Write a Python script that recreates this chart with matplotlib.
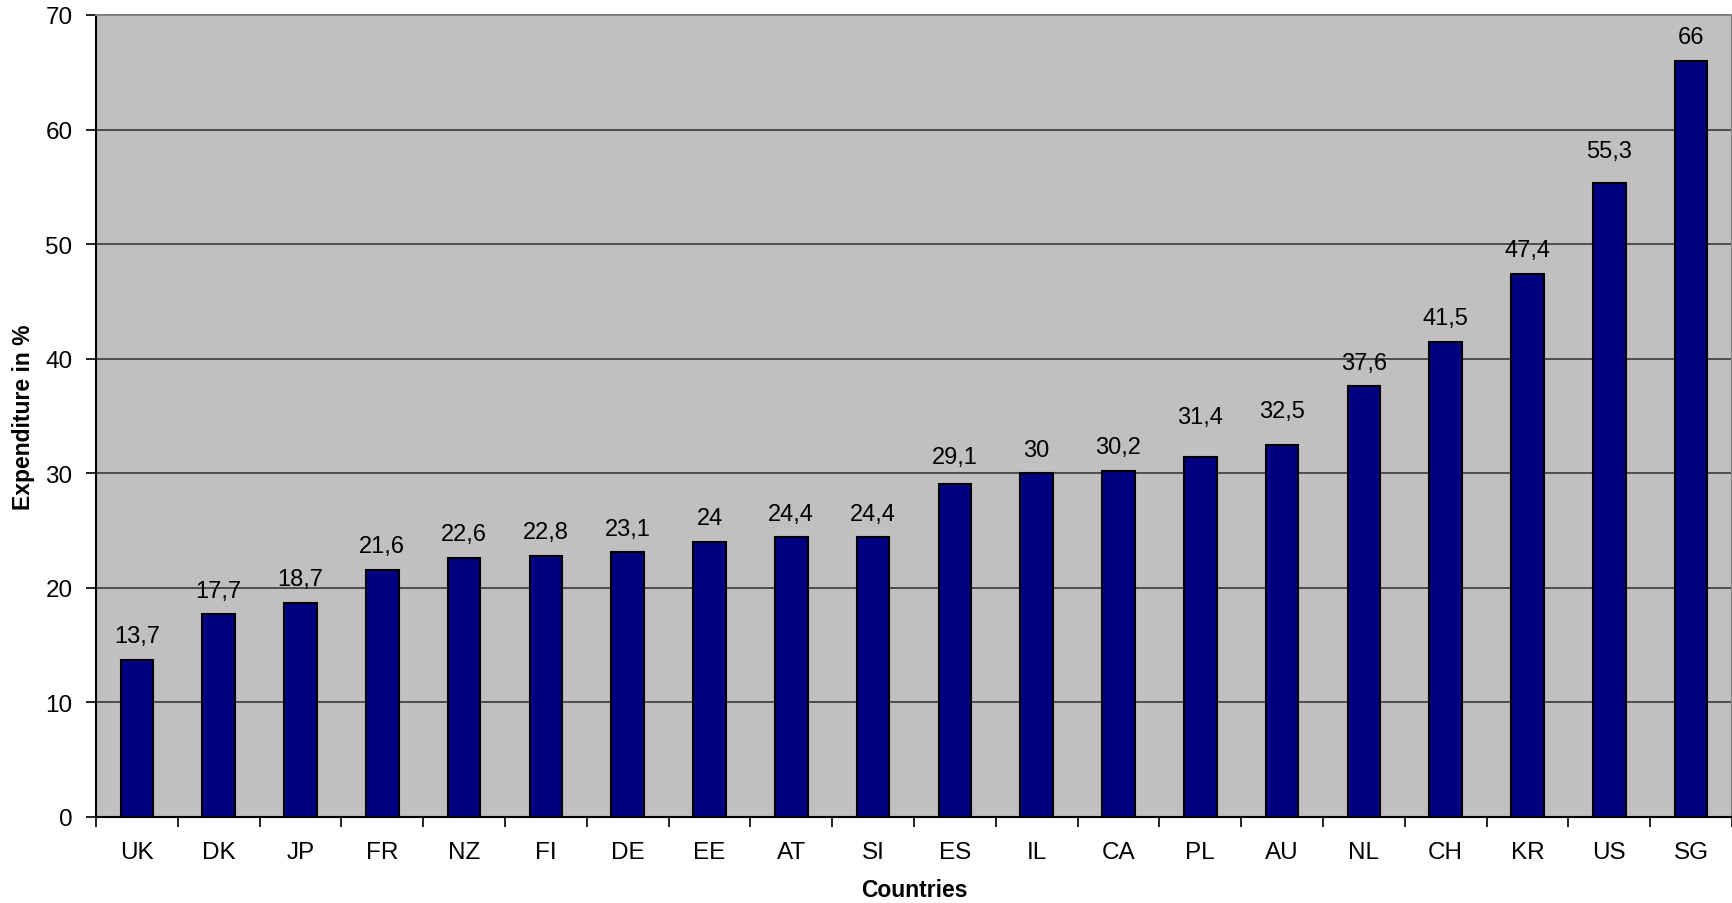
import matplotlib
matplotlib.use("Agg")
import matplotlib.pyplot as plt
import numpy as np

countries = ["UK", "DK", "JP", "FR", "NZ", "FI", "DE", "EE", "AT", "SI",
             "ES", "IL", "CA", "PL", "AU", "NL", "CH", "KR", "US", "SG"]
values = [13.7, 17.7, 18.7, 21.6, 22.6, 22.8, 23.1, 24.0, 24.4, 24.4,
          29.1, 30.0, 30.2, 31.4, 32.5, 37.6, 41.5, 47.4, 55.3, 66.0]
value_labels = ["13,7", "17,7", "18,7", "21,6", "22,6", "22,8", "23,1", "24", "24,4", "24,4",
                "29,1", "30", "30,2", "31,4", "32,5", "37,6", "41,5", "47,4", "55,3", "66"]
yticks = [0, 10, 20, 30, 40, 50, 60, 70]

# extra label nudges (points) seen in the reference
label_nudge = {"PL": 12, "AU": 7, "US": 6, "ES": 2}

plt.rcParams['font.family'] = ['Liberation Sans', 'DejaVu Sans']

fig = plt.figure(figsize=(17.33, 9.04), dpi=100)
ax = fig.add_axes([96/1733, 1 - 818/904, 1636/1733, (818 - 16)/904])
ax.set_facecolor('#C0C0C0')

x = np.arange(len(countries))
ax.bar(x, values, width=0.4, color='#000080', edgecolor='black', linewidth=1.5, zorder=3)

for xi, c, v, lab in zip(x, countries, values, value_labels):
    ax.annotate(lab, (xi, v), xytext=(0, 17 + label_nudge.get(c, 0)), textcoords='offset points',
                ha='center', va='center', fontsize=17, color='black')

ax.set_xlim(-0.5, len(countries) - 0.5)
ax.set_ylim(0, 70)
ax.set_yticks(yticks)
ax.set_yticklabels([str(t) for t in yticks], fontsize=17.5)
ax.yaxis.grid(True, color='#3a3a3a', linewidth=1.2, zorder=1)
ax.set_axisbelow(True)

ax.set_xticks(np.arange(len(countries) + 1) - 0.5)
ax.set_xticklabels([])
ax.set_xticks(x, minor=True)
ax.set_xticklabels(countries, minor=True, fontsize=17.5)
ax.tick_params(axis='x', which='major', length=7, width=1.2, direction='out')
ax.tick_params(axis='x', which='minor', length=0, pad=17)
ax.tick_params(axis='y', length=7, width=1.2, direction='out', pad=10)

for s in ['left', 'bottom']:
    ax.spines[s].set_color('black')
    ax.spines[s].set_linewidth(1.5)
for s in ['top', 'right']:
    ax.spines[s].set_color('#808080')
    ax.spines[s].set_linewidth(1.5)

ax.set_xlabel('Countries', fontsize=16.5, fontweight='bold')
ax.xaxis.set_label_coords(0.5, -(891 - 818) / 802)
ax.set_ylabel('Expenditure in %', fontsize=16.5, fontweight='bold')
ax.yaxis.set_label_coords((24 - 96) / 1636, 0.5)
ax.xaxis.label.set_va('center')
ax.yaxis.label.set_va('center')

fig.savefig('out.png', dpi=100)
